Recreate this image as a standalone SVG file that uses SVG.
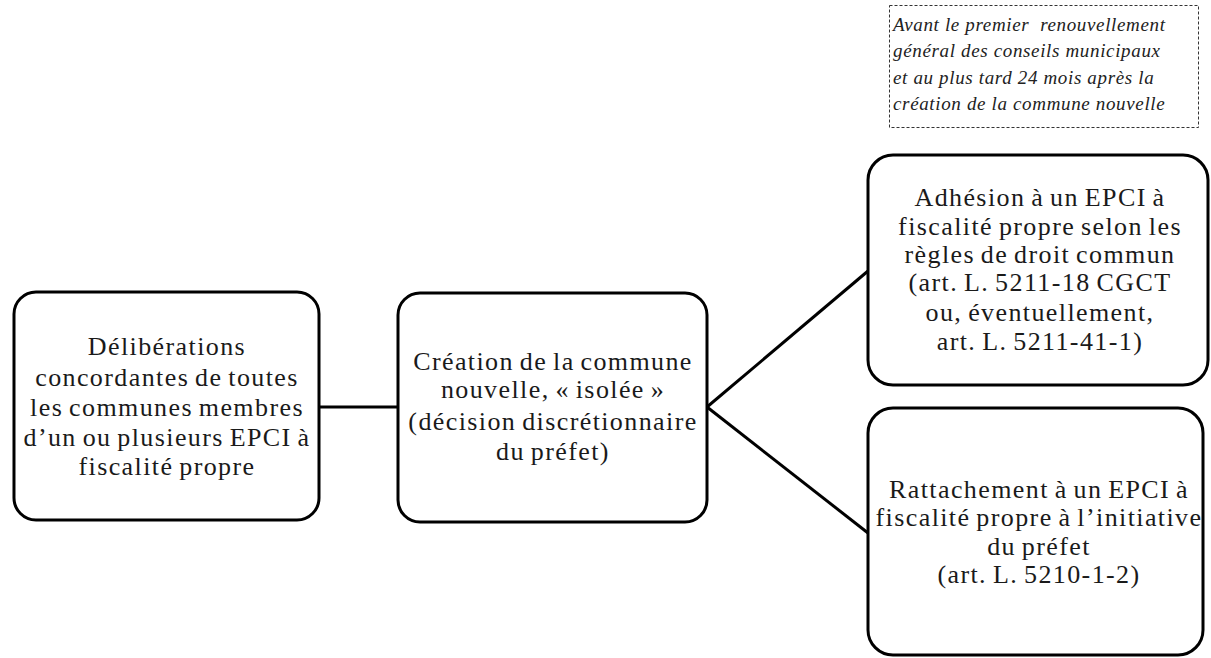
<svg xmlns="http://www.w3.org/2000/svg" width="1211" height="658" viewBox="0 0 1211 658">
<style>
.box{fill:#fff;stroke:#000;stroke-width:3}
.note{fill:#fff;stroke:#333;stroke-width:1;stroke-dasharray:3 2}
.t{font-family:"Liberation Serif",serif;font-size:26px;letter-spacing:1.4px;word-spacing:-2px;fill:#1a1a1a;text-anchor:middle}
.i{font-family:"Liberation Serif",serif;font-size:19px;letter-spacing:0.65px;font-style:italic;fill:#222}
.c{fill:none;stroke:#000;stroke-width:3}
</style>
<rect width="1211" height="658" fill="#fff"/>
<g id="connectors">
<line class="c" x1="319" y1="407" x2="398" y2="407"/>
<line class="c" x1="707" y1="407" x2="868" y2="271"/>
<line class="c" x1="707" y1="407" x2="868" y2="533"/>
</g>
<g id="note">
<rect class="note" x="889.5" y="5.5" width="309" height="122"/>
<text class="i" x="893" y="31">Avant le premier&#160; renouvellement</text>
<text class="i" x="893" y="57">général des conseils municipaux</text>
<text class="i" x="893" y="84">et au plus tard 24 mois après la</text>
<text class="i" x="893" y="110">création de la commune nouvelle</text>
</g>
<g id="n1">
<rect class="box" x="14" y="292" width="305" height="228" rx="22"/>
<text class="t" x="167" y="355">Délibérations</text>
<text class="t" x="167" y="386">concordantes de toutes</text>
<text class="t" x="167" y="416">les communes membres</text>
<text class="t" x="167" y="446">d’un ou plusieurs EPCI à</text>
<text class="t" x="167" y="475">fiscalité propre</text>
</g>
<g id="n2">
<rect class="box" x="398" y="293" width="309" height="229" rx="22"/>
<text class="t" x="553" y="370">Création de la commune</text>
<text class="t" x="553" y="398">nouvelle, « isolée »</text>
<text class="t" x="553" y="430">(décision discrétionnaire</text>
<text class="t" x="553" y="460">du préfet)</text>
</g>
<g id="n3">
<rect class="box" x="868" y="155" width="340" height="230" rx="25"/>
<text class="t" x="1040" y="206">Adhésion à un EPCI à</text>
<text class="t" x="1040" y="235">fiscalité propre selon les</text>
<text class="t" x="1040" y="263">règles de droit commun</text>
<text class="t" x="1040" y="291">(art. L. 5211-18 CGCT</text>
<text class="t" x="1040" y="321">ou, éventuellement,</text>
<text class="t" x="1040" y="350">art. L. 5211-41-1)</text>
</g>
<g id="n4">
<rect class="box" x="868" y="408" width="335" height="247" rx="25"/>
<text class="t" x="1039" y="498">Rattachement à un EPCI à</text>
<text class="t" x="1039" y="526">fiscalité propre à l’initiative</text>
<text class="t" x="1039" y="555">du préfet</text>
<text class="t" x="1039" y="583">(art. L. 5210-1-2)</text>
</g>
</svg>
